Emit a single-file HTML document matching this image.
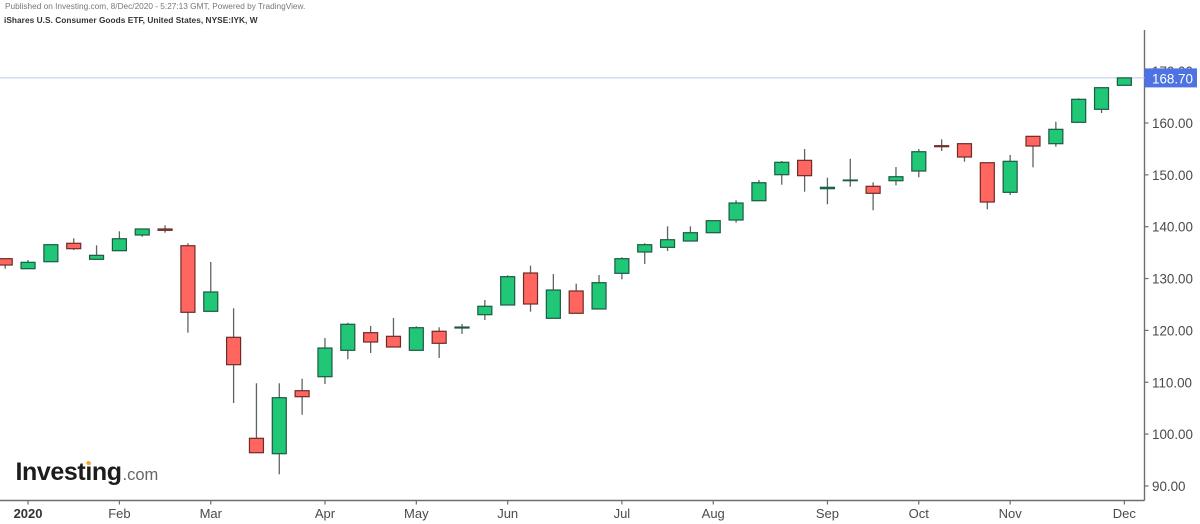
<!DOCTYPE html>
<html lang="en">
<head>
<meta charset="utf-8">
<title>iShares U.S. Consumer Goods ETF weekly chart</title>
<style>
html,body{margin:0;padding:0;background:#fff;width:1200px;height:524px;overflow:hidden}
svg{display:block;font-family:"Liberation Sans",Arial,sans-serif}
</style>
</head>
<body>
<svg id="chart" xmlns="http://www.w3.org/2000/svg" width="1200" height="524" viewBox="0 0 1200 524">
  <rect x="0" y="0" width="1200" height="524" fill="#ffffff"/>
  <text x="5" y="9" font-size="8.28" fill="#777777">Published on Investing.com, 8/Dec/2020 - 5:27:13 GMT, Powered by TradingView.</text>
  <text x="4" y="23" font-size="8.3" font-weight="700" letter-spacing="0.04" fill="#333333">iShares U.S. Consumer Goods ETF, United States, NYSE:IYK, W</text>
  <g id="y-axis-group"></g>
  <g id="x-axis-group"></g>
  <g id="price-line-group"></g>
  <g id="candles-group"></g>
  <g id="price-label-group"></g>
  <g>
    <text x="15.5" y="480" font-size="25" font-weight="700" letter-spacing="-0.4" fill="#1c1c1c">Investing</text>
    <text x="122.5" y="480" font-size="16.5" fill="#666666">.com</text>
    <ellipse cx="88.5" cy="463" rx="2.2" ry="2" fill="#f5a623"/>
  </g>
</svg>
<script>
const opens = [133.83,131.90,133.25,136.80,133.71,135.37,138.40,139.56,136.33,123.68,118.67,99.19,96.22,108.37,111.07,116.16,119.56,118.86,116.16,119.83,120.46,123.03,124.90,131.07,122.33,127.60,124.13,131.01,135.12,136.02,137.24,138.84,141.29,145.01,150.03,152.80,147.33,148.87,147.79,148.87,150.74,155.62,156.01,152.34,146.63,157.43,156.01,160.13,162.64,167.27];
const highs = [133.96,133.58,136.53,137.76,136.41,139.11,139.56,140.27,136.80,133.19,124.26,109.80,109.80,110.68,118.53,121.48,120.85,122.39,120.79,120.60,121.23,125.86,130.63,132.48,130.88,129.01,130.68,134.10,136.80,140.08,140.08,141.16,145.09,149.00,152.67,154.98,149.45,153.11,148.56,151.51,154.98,156.85,156.01,152.34,153.83,157.43,160.25,164.76,166.81,168.70];
const lows = [131.90,131.90,133.25,135.50,133.71,135.37,138.07,138.84,119.56,123.68,106.00,96.41,92.25,103.74,109.66,114.43,115.64,116.80,116.16,114.68,119.31,122.00,124.90,123.61,122.33,123.30,124.13,129.85,132.81,135.31,137.24,138.84,140.77,145.01,148.10,146.75,144.32,147.71,143.16,147.98,149.53,154.60,152.53,143.35,146.11,151.45,155.43,160.13,161.93,167.27];
const closes = [132.61,133.13,136.53,135.76,134.48,137.68,139.56,139.30,123.49,127.41,113.39,96.41,107.02,107.21,116.60,121.18,117.76,116.80,120.52,117.51,120.65,124.65,130.36,125.09,127.79,123.30,129.20,133.83,136.53,137.49,138.84,141.16,144.57,148.48,152.42,149.84,147.60,149.00,146.44,149.64,154.46,155.43,153.44,144.76,152.61,155.56,158.78,164.57,166.81,168.70];
const yTickValues = [90,100,110,120,130,140,150,160,170];
const xTickLabels = ["2020","Feb","Mar","Apr","May","Jun","Jul","Aug","Sep","Oct","Nov","Dec"];
const xTickBars = [1,5,9,14,18,22,27,31,36,40,44,49];
const lastPrice = 168.70;

const NS = 'http://www.w3.org/2000/svg';
const xOf = i => 5.2 + 22.84 * i;
const yOf = p => 123 + (160 - p) * 5.185;
const axisX = 1144.5;
const axisY = 500.5;

function make(tag, attrs, parent, text) {
  const el = document.createElementNS(NS, tag);
  for (const k in attrs) el.setAttribute(k, attrs[k]);
  if (text !== undefined) el.textContent = text;
  parent.appendChild(el);
  return el;
}

const yAxis = document.getElementById('y-axis-group');
const yLine = make('line', {x1: axisX, x2: axisX, y1: 30, y2: axisY, stroke: '#6e6e6e', 'stroke-width': 1.4}, yAxis);


yTickValues.forEach(v => {
  const tick = make('line', {x1: axisX, x2: axisX + 4, y1: yOf(v), y2: yOf(v), stroke: '#6e6e6e', 'stroke-width': 1.2}, yAxis);
  
  
  const lab = make('text', {x: 1152, y: yOf(v) + 5, 'font-size': 13.4, fill: '#4a4a4a'}, yAxis, v.toFixed(2));
  
  
});

const xAxis = document.getElementById('x-axis-group');
const xLine = make('line', {x1: 0, x2: axisX, y1: axisY, y2: axisY, stroke: '#6e6e6e', 'stroke-width': 1.4}, xAxis);


xTickLabels.forEach((t, n) => {
  const x = xOf(xTickBars[n]);
  const tick = make('line', {x1: x, x2: x, y1: axisY, y2: axisY + 4, stroke: '#6e6e6e', 'stroke-width': 1.2}, xAxis);
  
  
  const lab = make('text', {x: x, y: 518, 'font-size': 13, 'text-anchor': 'middle', fill: n === 0 ? '#333333' : '#4a4a4a', 'font-weight': n === 0 ? 700 : 400}, xAxis, t);
  
  
});

const priceLineGroup = document.getElementById('price-line-group');
const priceLine = make('line', {x1: 0, x2: axisX, y1: yOf(lastPrice), y2: yOf(lastPrice), stroke: '#c9d4f2', 'stroke-width': 1.2}, priceLineGroup);



const candles = document.getElementById('candles-group');
opens.forEach((o, i) => {
  const c = closes[i];
  const up = c >= o;
  const x = xOf(i);
  const g = make('g', {}, candles);
  
  
  const wick = make('line', {x1: x, x2: x, y1: yOf(highs[i]), y2: yOf(lows[i]), stroke: '#5f6462', 'stroke-width': 1.3}, g);
  
  
  const top = yOf(Math.max(o, c));
  const bot = yOf(Math.min(o, c));
  const body = make('rect', {x: x - 7, y: top, width: 14, height: Math.max(bot - top, 0.4), fill: up ? '#1fc777' : '#ff665f', stroke: up ? '#1d5a42' : '#6e2b29', 'stroke-width': 1.2}, g);
  
  
});

const priceLabels = document.getElementById('price-label-group');
const badge = make('rect', {x: axisX, y: yOf(lastPrice) - 9.5, width: 52.5, height: 19, fill: '#4c72e3'}, priceLabels);


const badgeText = make('text', {x: 1152, y: yOf(lastPrice) + 5.5, 'font-size': 13.4, fill: '#ffffff'}, priceLabels, lastPrice.toFixed(2));


</script>
</body>
</html>
